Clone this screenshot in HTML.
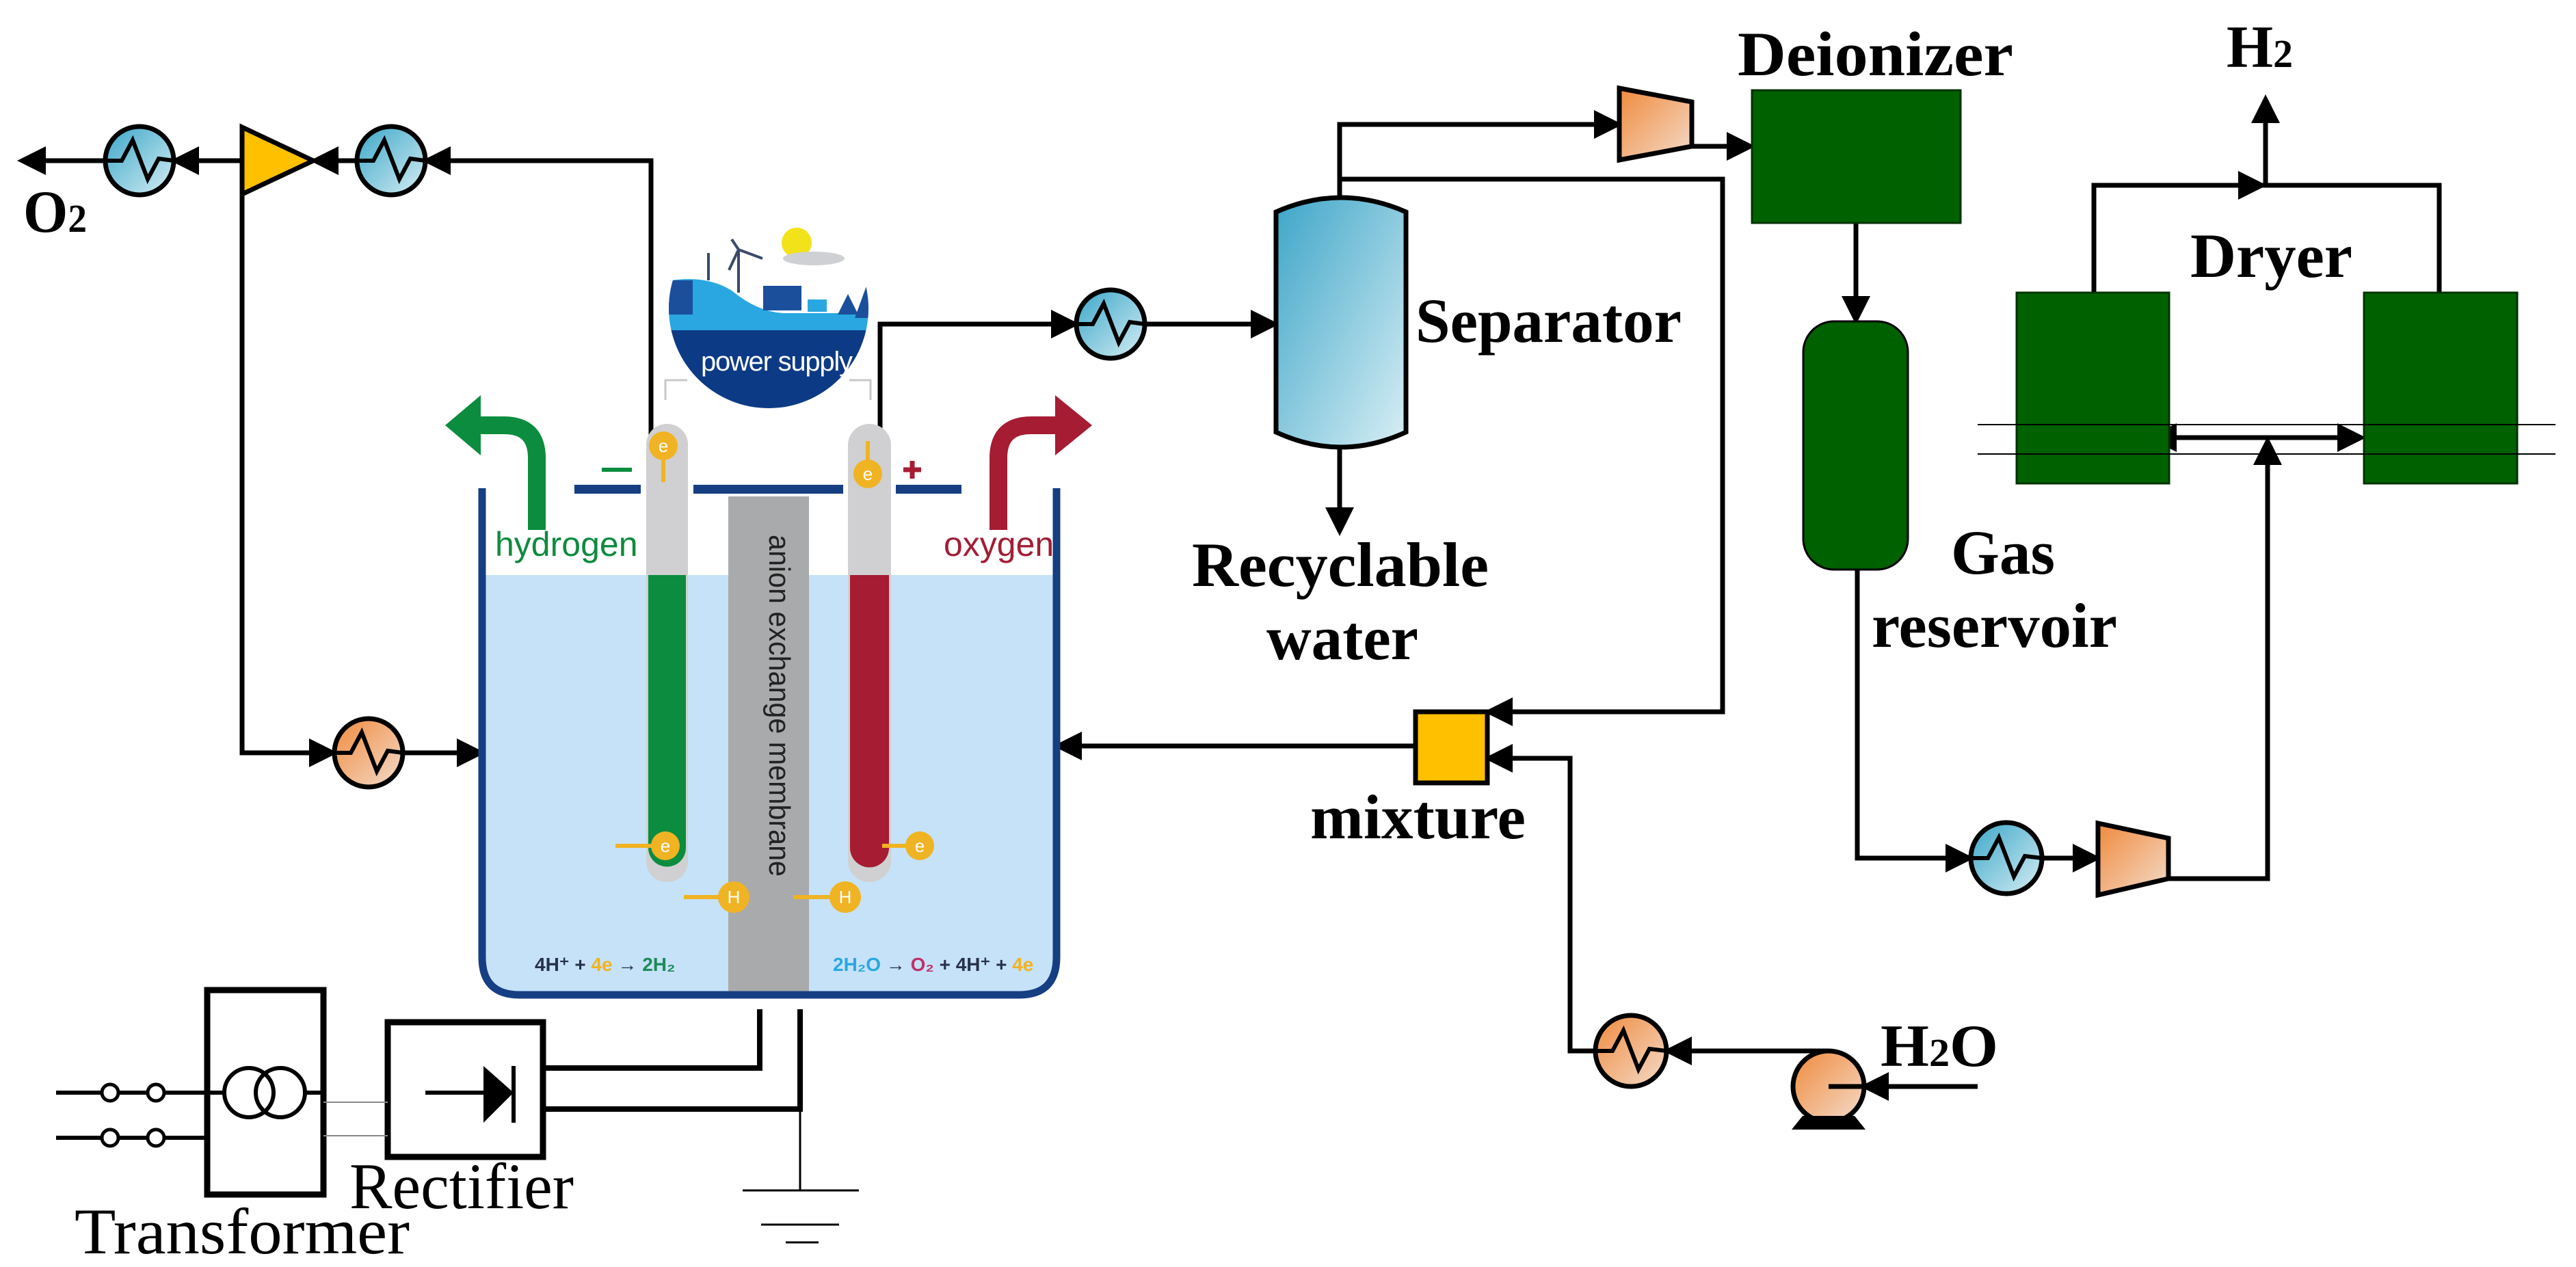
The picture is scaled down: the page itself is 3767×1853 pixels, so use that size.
<!DOCTYPE html>
<html><head><meta charset="utf-8"><style>
html,body{margin:0;padding:0;background:#fff;}
svg{display:block;}
.lb{font-family:"Liberation Serif",serif;font-weight:bold;fill:#000;}
.rg{font-family:"Liberation Serif",serif;fill:#000;}
</style></head><body>
<svg width="3767" height="1853" viewBox="0 0 3767 1853" xmlns="http://www.w3.org/2000/svg">
<defs>
<linearGradient id="gb" x1="0" y1="0" x2="1" y2="1"><stop offset="0" stop-color="#3aa6c8"/><stop offset="1" stop-color="#d6eef4"/></linearGradient>
<linearGradient id="go" x1="0" y1="0" x2="1" y2="1"><stop offset="0" stop-color="#f08a3c"/><stop offset="1" stop-color="#f3dccb"/></linearGradient>
<linearGradient id="gs" x1="0" y1="0" x2="1" y2="1"><stop offset="0" stop-color="#3ea5c8"/><stop offset="1" stop-color="#d8eff5"/></linearGradient>
<marker id="a" markerWidth="6" markerHeight="6" refX="5" refY="3" orient="auto" markerUnits="strokeWidth"><path d="M0,0 L6,3 L0,6 Z" fill="#000"/></marker>
<marker id="as" markerWidth="6" markerHeight="6" refX="1" refY="3" orient="auto-start-reverse" markerUnits="strokeWidth"><path d="M0,0 L6,3 L0,6 Z" fill="#000"/></marker>
<clipPath id="pc"><circle cx="1124" cy="451" r="146"/></clipPath>
</defs>

<g fill="none" stroke="#000" stroke-width="7">
<path d="M154 235 L32 235" marker-end="url(#a)"/>
<path d="M354 235 L256 235" marker-end="url(#a)"/>
<path d="M522 235 L460 235" marker-end="url(#a)"/>
<path d="M952 637 L952 235 L624 235" marker-end="url(#a)"/>
<path d="M354 284 L354 1101 L487 1101" marker-end="url(#a)"/>
<path d="M589 1101 L703 1101" marker-end="url(#a)"/>
<path d="M1287 637 L1287 474 L1572 474" marker-end="url(#a)"/>
<path d="M1676 474 L1864 474" marker-end="url(#a)"/>
<path d="M1959 290 L1959 182 L2366 182" marker-end="url(#a)"/>
<path d="M2474 214 L2560 214" marker-end="url(#a)"/>
<path d="M1959 262 L2519 262 L2519 1041 L2177 1041" marker-end="url(#a)"/>
<path d="M1959 655 L1959 777" marker-end="url(#a)"/>
<path d="M2070 1091 L1547 1091" marker-end="url(#a)"/>
<path d="M2674 1537 L2439 1537" marker-end="url(#a)"/>
<path d="M2333 1537 L2296 1537 L2296 1109 L2177 1109" marker-end="url(#a)"/>
<path d="M2892 1589 L2727 1589" marker-end="url(#a)"/>
<path d="M2714 326 L2714 468" marker-end="url(#a)"/>
<path d="M2716 833 L2716 1255 L2880 1255" marker-end="url(#a)"/>
<path d="M2986 1255 L3066 1255" marker-end="url(#a)"/>
<path d="M3171 1285 L3316 1285 L3316 645" marker-end="url(#a)"/>
<path d="M3176 640 L3453 640" marker-start="url(#as)" marker-end="url(#a)"/>
<path d="M3062 428 L3062 271 L3567 271 L3567 428"/>
<path d="M3240 271 L3308 271" marker-end="url(#a)"/>
<path d="M3313 271 L3313 145" marker-end="url(#a)"/>
</g>

<g stroke="#000" stroke-width="7">
<circle cx="204" cy="235" r="50" fill="url(#gb)"/>
<circle cx="572" cy="235" r="50" fill="url(#gb)"/>
<circle cx="539" cy="1101" r="50" fill="url(#go)"/>
<circle cx="1624" cy="474" r="50" fill="url(#gb)"/>
<circle cx="2385" cy="1537" r="52" fill="url(#go)"/>
<circle cx="2934" cy="1255" r="52" fill="url(#gb)"/>
</g>
<g fill="none" stroke="#000" stroke-width="6">
<path d="M154 235 L178 235 L194 205 L216 262 L232 232 L254 235"/>
<path d="M522 235 L546 235 L562 205 L584 262 L600 232 L622 235"/>
<path d="M489 1101 L513 1101 L529 1071 L551 1128 L567 1098 L589 1101"/>
<path d="M1574 474 L1598 474 L1614 444 L1636 501 L1652 471 L1674 474"/>
<path d="M2333 1537 L2358 1537 L2374 1507 L2396 1564 L2412 1534 L2437 1537"/>
<path d="M2882 1255 L2907 1255 L2923 1225 L2945 1282 L2961 1252 L2986 1255"/>
</g>
<polygon points="354,186 354,284 458,235" fill="#ffc000" stroke="#000" stroke-width="7"/>
<polygon points="2368,129 2474,149 2474,214 2368,234" fill="url(#go)" stroke="#000" stroke-width="7"/>
<polygon points="3068,1204 3171,1226 3171,1285 3068,1309" fill="url(#go)" stroke="#000" stroke-width="7"/>
<circle cx="2674" cy="1589" r="52" fill="url(#go)" stroke="#000" stroke-width="7"/>
<path d="M2620 1652 L2636 1632 L2712 1632 L2728 1652 Z" fill="#000"/>
<path d="M2674 1589 L2727 1589" stroke="#000" stroke-width="7"/>
<rect x="2070" y="1041" width="105" height="104" fill="#ffc000" stroke="#000" stroke-width="7"/>
<path d="M1866 310 Q1961 268 2056 310 L2056 632 Q1961 676 1866 632 Z" fill="url(#gs)" stroke="#000" stroke-width="7"/>
<rect x="2562" y="132" width="305" height="194" fill="#006100" stroke="#003300" stroke-width="3"/>
<rect x="2637" y="470" width="153" height="363" rx="45" fill="#006100" stroke="#000" stroke-width="3"/>
<rect x="2949" y="428" width="223" height="279" fill="#006100" stroke="#003300" stroke-width="3"/>
<rect x="3457" y="428" width="224" height="279" fill="#006100" stroke="#003300" stroke-width="3"/>
<g stroke="#000" stroke-width="2"><path d="M2892 621 L3737 621 M2892 664 L3737 664"/></g>

<path d="M705 841 L1545 841 L1545 1400 Q1545 1455 1490 1455 L760 1455 Q705 1455 705 1400 Z" fill="#c6e2f8"/>
<rect x="1065" y="726" width="118" height="726" fill="#a9aaac"/>
<path d="M705 714 L705 1400 Q705 1455 760 1455 L1490 1455 Q1545 1455 1545 1400 L1545 714" fill="none" stroke="#163e82" stroke-width="11"/>
<g fill="#163e82"><rect x="840" y="709" width="97" height="13"/><rect x="1014" y="709" width="219" height="13"/><rect x="1310" y="709" width="96" height="13"/></g>
<rect x="945" y="620" width="61" height="670" rx="30" fill="#d0d0d2"/>
<path d="M948 841 L1003 841 L1003 1240 A27.5 27.5 0 0 1 948 1240 Z" fill="#0b8c3f"/>
<rect x="1240" y="620" width="63" height="670" rx="31" fill="#d0d0d2"/>
<path d="M1243 841 L1300 841 L1300 1240 A28.5 28.5 0 0 1 1243 1240 Z" fill="#a51c33"/>
<text transform="translate(1125,782) rotate(90)" font-family="Liberation Sans,sans-serif" font-size="44" fill="#222" textLength="500" lengthAdjust="spacingAndGlyphs">anion exchange membrane</text>
<path d="M785 775 L785 670 Q785 622 737 622 L700 622" fill="none" stroke="#0b8c3f" stroke-width="26"/>
<polygon points="703,578 651,622 703,666" fill="#0b8c3f"/>
<path d="M1460 775 L1460 670 Q1460 622 1508 622 L1545 622" fill="none" stroke="#a51c33" stroke-width="26"/>
<polygon points="1543,578 1597,622 1543,666" fill="#a51c33"/>
<text x="724" y="813" font-family="Liberation Sans,sans-serif" font-size="50" fill="#0f8a3f">hydrogen</text>
<text x="1380" y="813" font-family="Liberation Sans,sans-serif" font-size="50" fill="#a31d35">oxygen</text>
<rect x="880" y="684" width="44" height="6" fill="#0b8c3f"/>
<path d="M1321 687 L1347 687 M1334 674 L1334 700" stroke="#a51c33" stroke-width="7"/>
<g fill="#f0b323">
<rect x="967" y="660" width="6" height="45"/>
<rect x="1266" y="645" width="6" height="45"/>
<rect x="900" y="1234" width="60" height="6"/>
<rect x="1290" y="1234" width="50" height="6"/>
<rect x="1000" y="1309" width="60" height="6"/>
<rect x="1160" y="1309" width="60" height="6"/>
<circle cx="970" cy="652" r="21"/><circle cx="1269" cy="693" r="21"/>
<circle cx="973" cy="1237" r="21"/><circle cx="1345" cy="1237" r="21"/>
<circle cx="1073" cy="1312" r="23"/><circle cx="1236" cy="1312" r="23"/>
</g>
<g font-family="Liberation Sans,sans-serif" font-size="26" fill="#fff" text-anchor="middle">
<text x="970" y="661">e</text><text x="1269" y="702">e</text><text x="973" y="1246">e</text><text x="1345" y="1246">e</text>
<text x="1073" y="1321">H</text><text x="1236" y="1321">H</text></g>
<g font-family="Liberation Sans,sans-serif" font-size="28" font-weight="bold">
<text x="782" y="1420" fill="#26324a">4H⁺ + <tspan fill="#f0b323">4e</tspan> → <tspan fill="#1d8a5a">2H₂</tspan></text>
<text x="1218" y="1420" fill="#2aa7e0">2H₂O <tspan fill="#26324a">→</tspan> <tspan fill="#c0306a">O₂</tspan><tspan fill="#26324a"> + 4H⁺ + </tspan><tspan fill="#f0b323">4e</tspan></text>
</g>
<g clip-path="url(#pc)">
<rect x="970" y="300" width="310" height="310" fill="#fff"/>
<circle cx="1165" cy="355" r="22" fill="#f2e21a"/>
<ellipse cx="1190" cy="378" rx="45" ry="10" fill="#cfd0d4"/>
<path d="M970 412 Q1030 400 1070 425 Q1110 458 1150 458 L1300 458 L1300 483 L970 483 Z" fill="#2aa7e0"/>
<rect x="978" y="410" width="35" height="50" fill="#1b4f9c"/>
<rect x="1116" y="418" width="56" height="36" fill="#1b4f9c"/>
<rect x="1180" y="437" width="30" height="20" fill="#2aa7e0" stroke="#fff" stroke-width="2"/>
<polygon points="1225,460 1240,430 1255,460" fill="#1b4f9c"/>
<polygon points="1250,465 1270,410 1290,465" fill="#1b4f9c"/>
<rect x="970" y="483" width="320" height="130" fill="#0d3a85"/>
</g>
<path d="M1036 410 L1036 370 M1080 428 L1080 365 M1080 365 L1066 395 M1080 365 L1115 378 M1080 365 L1070 350" stroke="#3a4a6a" stroke-width="4" fill="none"/>
<text x="1025" y="542" font-family="Liberation Sans,sans-serif" font-size="40" fill="#fff" textLength="222">power supply</text>
<path d="M973 585 L973 556 L1005 556 M1273 585 L1273 556 L1242 556" stroke="#c8c8c8" stroke-width="3" fill="none"/>

<g fill="none" stroke="#000" stroke-width="8">
<path d="M1111 1476 L1111 1562 L794 1562"/>
<path d="M1170 1476 L1170 1622 L794 1622"/>
<rect x="567" y="1495" width="227" height="197" stroke-width="9"/>
<rect x="303" y="1448" width="170" height="299" stroke-width="9"/>
<path d="M622 1598 L751 1598 M751 1559 L751 1642" stroke-width="6"/>
<circle cx="364" cy="1598" r="36" stroke-width="6"/>
<circle cx="410" cy="1598" r="36" stroke-width="6"/>
<path d="M303 1598 L328 1598 M446 1598 L473 1598" stroke-width="6"/>
<path d="M82 1598 L149 1598 M173 1598 L216 1598 M240 1598 L303 1598" stroke-width="6"/>
<path d="M82 1664 L149 1664 M173 1664 L216 1664 M240 1664 L303 1664" stroke-width="6"/>
</g>
<polygon points="707,1559 707,1642 751,1598" fill="#000"/>
<g fill="#fff" stroke="#000" stroke-width="5">
<circle cx="161" cy="1598" r="12"/><circle cx="228" cy="1598" r="12"/>
<circle cx="161" cy="1664" r="12"/><circle cx="228" cy="1664" r="12"/></g>
<g stroke="#000" stroke-width="3" fill="none">
<path d="M473 1612 L567 1612 M473 1661 L567 1661" stroke="#888" stroke-width="2"/>
<path d="M1170 1622 L1170 1741 M1086 1741 L1256 1741 M1113 1791 L1227 1791 M1149 1817 L1197 1817"/>
</g>

<text class="lb" x="34" y="339" font-size="88" textLength="93" lengthAdjust="spacingAndGlyphs">O<tspan font-size="58">2</tspan></text>
<text class="lb" x="2541" y="110" font-size="92" textLength="403" lengthAdjust="spacingAndGlyphs">Deionizer</text>
<text class="lb" x="3256" y="98" font-size="88" textLength="97" lengthAdjust="spacingAndGlyphs">H<tspan font-size="58">2</tspan></text>
<text class="lb" x="3203" y="405" font-size="92" textLength="237" lengthAdjust="spacingAndGlyphs">Dryer</text>
<text class="lb" x="2070" y="500" font-size="92" textLength="389" lengthAdjust="spacingAndGlyphs">Separator</text>
<text class="lb" x="1743" y="857" font-size="92" textLength="434" lengthAdjust="spacingAndGlyphs">Recyclable</text>
<text class="lb" x="1852" y="964" font-size="92" textLength="222" lengthAdjust="spacingAndGlyphs">water</text>
<text class="lb" x="2853" y="839" font-size="92" textLength="152" lengthAdjust="spacingAndGlyphs">Gas</text>
<text class="lb" x="2737" y="946" font-size="92" textLength="359" lengthAdjust="spacingAndGlyphs">reservoir</text>
<text class="lb" x="1916" y="1226" font-size="92" textLength="315" lengthAdjust="spacingAndGlyphs">mixture</text>
<text class="lb" x="2750" y="1559" font-size="88" textLength="172" lengthAdjust="spacingAndGlyphs">H<tspan font-size="58">2</tspan>O</text>
<text class="rg" x="511" y="1767" font-size="95" textLength="328" lengthAdjust="spacingAndGlyphs">Rectifier</text>
<text class="rg" x="109" y="1833" font-size="95" textLength="490" lengthAdjust="spacingAndGlyphs">Transformer</text>
</svg>
</body></html>
